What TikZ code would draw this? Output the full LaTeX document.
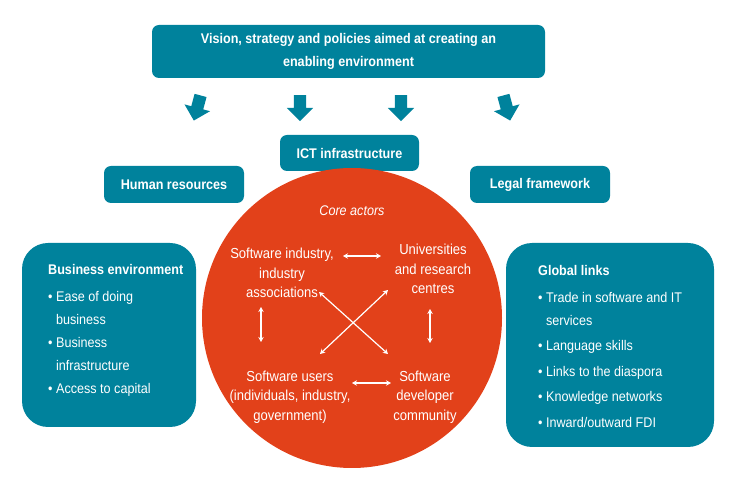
\documentclass[tikz,border=0pt]{standalone}
\usepackage{fontspec}
\setmainfont{Liberation Sans}[FakeStretch=0.9]
\usepackage{xcolor}
\usepackage{tikz}
\usetikzlibrary{positioning, shapes.arrows, arrows.meta}
\definecolor{boxblue}{RGB}{0,130,156}
\definecolor{coreorange}{RGB}{226,65,26}

\begin{document}
\begin{tikzpicture}[x=1pt,y=-1pt,
                    tealbox/.style={fill=boxblue,rounded corners=7pt,text=white,align=center,
                      inner sep=0pt,font=\bfseries\fontsize{14}{23}\selectfont},
                    sidebox/.style={fill=boxblue,rounded corners=26pt},
                    downarrow/.style={single arrow,fill=boxblue,inner xsep=0pt,inner ysep=6pt,
                      minimum height=26pt,single arrow head extend=7pt},
                    actor/.style={text=white,align=center,font=\fontsize{14.5}{19.5}\selectfont},
                    listtext/.style={text=white,align=left,anchor=north west,inner sep=0pt,
                      font=\fontsize{14}{23}\selectfont},
                    link/.style={white,line width=1.2pt,{Stealth[length=5pt,width=5.5pt]}-{Stealth[length=5pt,width=5.5pt]}}]

  \useasboundingbox (0,0) rectangle (748,486);

  \node[tealbox,minimum width=393pt,minimum height=53pt] (vision) at (348.5,51.5)
    {Vision, strategy and policies aimed at creating an\\enabling environment};

  \node[downarrow,rotate=-105] (a1) at (198,105) {};
  \node[downarrow,rotate=-90] (a2) at (300,105) {};
  \node[downarrow,rotate=-90] (a3) at (401,105) {};
  \node[downarrow,rotate=-75] (a4) at (506,105) {};

  \node[tealbox,minimum width=139pt,minimum height=36pt] (ict) at (349.5,153) {ICT infrastructure};
  \node[tealbox,minimum width=140pt,minimum height=37pt] (human) at (174,184.5) {Human resources};
  \node[tealbox,minimum width=140pt,minimum height=37pt] (legal) at (540,184.5) {Legal framework};

  \node[circle,fill=coreorange,minimum size=300pt,inner sep=0pt] (core) at (352,318) {};
  \node[actor,font=\itshape\fontsize{14}{15}\selectfont] (coretitle) at (352,211) {Core actors};

  \node[actor] (ind) at (282,273) {Software industry,\\industry\\associations};
  \node[actor] (uni) at (433,269) {Universities\\and research\\centres};
  \node[actor] (usr) at (290,397) {Software users\\(individuals, industry,\\government)};
  \node[actor] (dev) at (425,397) {Software\\developer\\community};

  \coordinate (h1) at (343,256);  \coordinate (h2) at (381,256);
  \coordinate (v1) at (261,307);  \coordinate (v2) at (261,342);
  \coordinate (w1) at (430,309);  \coordinate (w2) at (430,343);
  \coordinate (b1) at (352,383);  \coordinate (b2) at (391,383);
  \coordinate (x1) at (319,292);  \coordinate (x2) at (388,354);
  \coordinate (y1) at (388,290);  \coordinate (y2) at (320,354);

  \draw[link] (h1) -- (h2);
  \draw[link] (v1) -- (v2);
  \draw[link] (w1) -- (w2);
  \draw[link] (b1) -- (b2);
  \draw[link] (x1) -- (x2);
  \draw[link] (y1) -- (y2);

  \node[sidebox,minimum width=174pt,minimum height=184pt] (bizbox) at (109,335) {};
  \node[listtext] (bizlist) at (48,264)
    {\textbf{Business environment}\\[4pt]
     \textbullet\ Ease of doing\\
     \phantom{\textbullet\ }business\\
     \textbullet\ Business\\
     \phantom{\textbullet\ }infrastructure\\
     \textbullet\ Access to capital};

  \node[sidebox,minimum width=208pt,minimum height=204pt] (globbox) at (610,345) {};
  \node[listtext] (globlist) at (538,265)
    {\textbf{Global links}\\[4pt]
     \textbullet\ Trade in software and IT\\
     \phantom{\textbullet\ }services\\[2.5pt]
     \textbullet\ Language skills\\[2.5pt]
     \textbullet\ Links to the diaspora\\[2.5pt]
     \textbullet\ Knowledge networks\\[2.5pt]
     \textbullet\ Inward/outward FDI};
\end{tikzpicture}
\end{document}
